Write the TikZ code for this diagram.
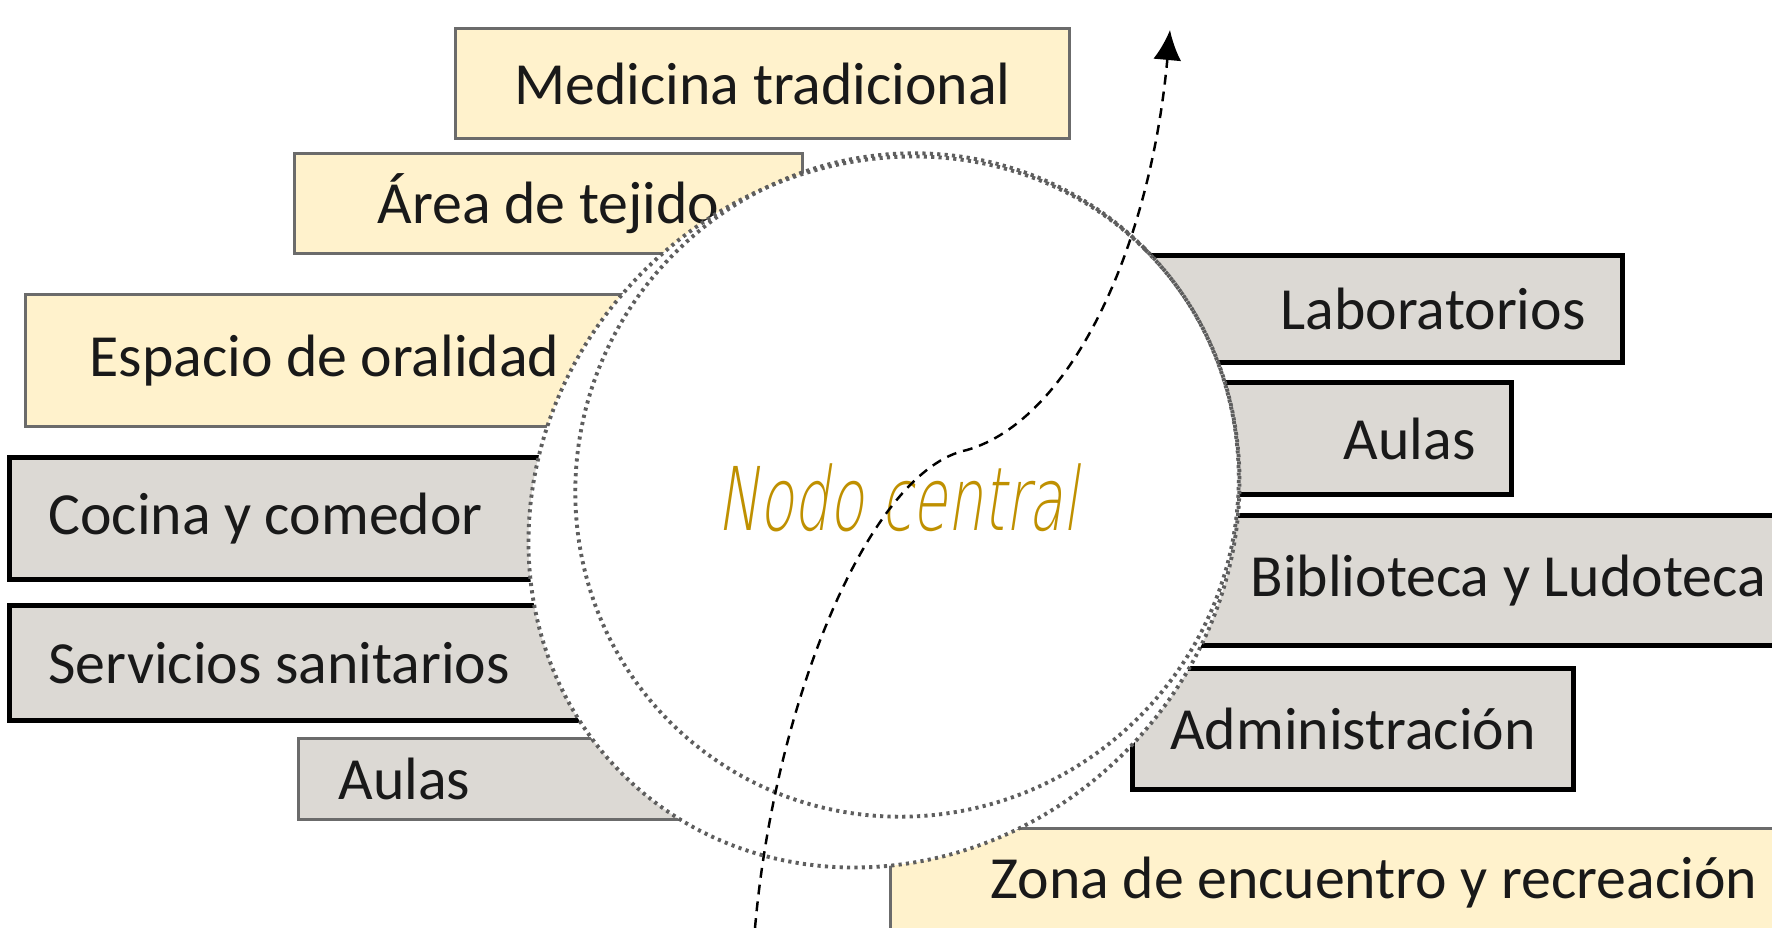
\documentclass[tikz,border=0pt]{standalone}
\usepackage{fontspec}
\setmainfont{Carlito}
\newfontfamily\handfont[FakeStretch=0.64,FakeSlant=0.15]{DejaVu Sans ExtraLight}
\usetikzlibrary{arrows.meta}

\definecolor{crema}{HTML}{FFF2CC}
\definecolor{gris}{HTML}{DCD9D4}
\definecolor{borde}{HTML}{6B6B6B}
\definecolor{punto}{HTML}{5E5E5E}
\definecolor{oro}{HTML}{BF9000}

\tikzset{
  zona/.style={anchor=north west, inner ysep=0pt, text=black!90,
    font=\fontsize{17}{20}\selectfont},
  zonacrema/.style={zona, fill=crema, draw=borde, line width=0.85pt},
  zonagris/.style={zona, fill=gris, draw=black, line width=1.4pt},
  zonagrisclara/.style={zona, fill=gris, draw=borde, line width=0.85pt},
  circulo/.style={draw=punto, line width=1.1pt, dash pattern=on 0.9pt off 1.2pt},
  flecha/.style={-{Latex[length=3mm,width=2.8mm]}, line width=0.7pt,
    dash pattern=on 2.8pt off 2pt}
}

\begin{document}
\begin{tikzpicture}[x=0.01cm, y=-0.01cm]
    \useasboundingbox (0,0) rectangle (1772,928);
    \fill[white] (0,0) rectangle (1772,928);

    % espacios de la izquierda
    \node[zonacrema, minimum width=6.14cm, minimum height=1.10cm] (medicina) at (454,27) {Medicina tradicional};
    \node[zonacrema, minimum width=5.08cm, minimum height=1.00cm] (tejido) at (293,152) {Área de tejido};
    \node[zonacrema, inner xsep=0.64cm, text width=5.48cm, align=flush left, minimum height=1.32cm] (oralidad) at (24,293) {Espacio de oralidad};
    \node[zonagris, inner xsep=0.39cm, text width=5.62cm, align=flush left, minimum height=1.22cm] (cocina) at (7,455) {Cocina y comedor};
    \node[zonagris, inner xsep=0.39cm, text width=5.62cm, align=flush left, minimum height=1.15cm] (sanitarios) at (7,603) {Servicios sanitarios};
    \node[zonagrisclara, inner xsep=0.40cm, text width=3.20cm, align=flush left, minimum height=0.81cm] (aulasizq) at (297,737) {Aulas};

    % espacios de la derecha
    \node[zonagris, anchor=north east, inner xsep=0.37cm, text width=4.51cm, align=flush right, minimum height=1.07cm] (laboratorios) at (1625,253) {Laboratorios};
    \node[zonagris, anchor=north east, inner xsep=0.36cm, text width=2.92cm, align=flush right, minimum height=1.12cm] (aulasder) at (1514,380) {Aulas};
    \node[zonagris, inner xsep=0.98cm, text width=6.50cm, align=flush left, minimum height=1.30cm] (biblioteca) at (1150,513) {Biblioteca y Ludoteca};
    \node[zonagris, minimum width=4.41cm, minimum height=1.21cm] (administracion) at (1130,666) {Administración};
    \node[zonacrema, inner xsep=1.00cm, text width=9.00cm, align=flush left, minimum height=1.08cm] (encuentro) at (889,827) {Zona de encuentro y recreación};

    % nodo central
    \fill[white, rotate around={45:(884,512)}] (884,512) ellipse (3.70cm and 3.40cm);
    \draw[circulo, rotate around={45:(884,512)}] (884,512) ellipse (3.70cm and 3.40cm);
    \draw[circulo, rotate around={45:(907,485)}] (907,485) ellipse (3.35cm and 3.28cm);
    \node[font=\handfont\fontsize{25}{30}\selectfont, text=oro, anchor=base] (nodo) at (898,531) {Nodo central};

    \coordinate (ini) at (755,928);
    \coordinate (giro) at (967,450);
    \coordinate (fin) at (1170,30);
    \draw[flecha] (ini) .. controls (775,700) and (870,470) .. (giro)
        .. controls (1070,420) and (1150,250) .. (fin);
\end{tikzpicture}
\end{document}
